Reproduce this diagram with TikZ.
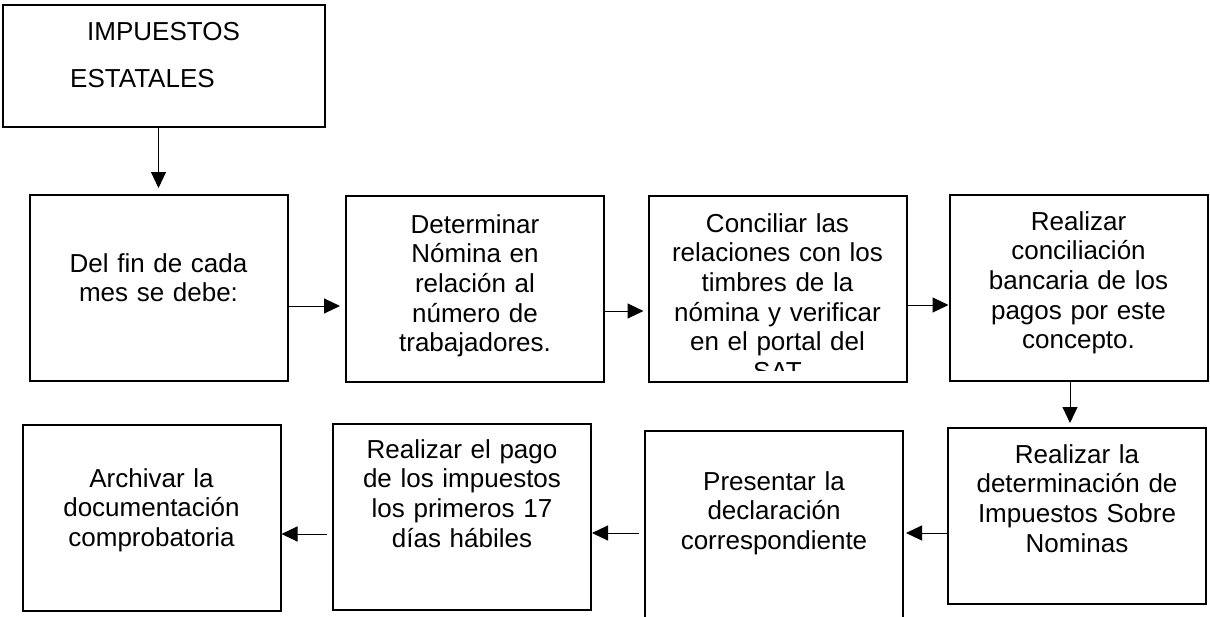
\documentclass[tikz,border=0pt]{standalone}
\usepackage{fontspec}
\setmainfont{Liberation Sans}
\usetikzlibrary{arrows.meta}

\begin{document}
\begin{tikzpicture}[x=1pt,y=-1pt,font=\fontsize{26}{29.7}\selectfont]
\clip (0,0) rectangle (1210,616);
\begin{scope}[every node/.style={draw=black,line width=2pt,minimum width=258pt,minimum height=186pt,inner sep=0pt}]
    \node[minimum width=322pt,minimum height=122pt] (titulo) at (164,66) {};
    \node (p1) at (158.5,288) {};
    \node (p2) at (475,288.5) {};
    \node (p3) at (777.5,289) {};
    \node (p4) at (1078.5,288) {};
    \node[minimum height=176pt] (p8) at (1077,516) {};
    \node[minimum height=190pt] (p7) at (774,526) {};
    \node (p6) at (462,517) {};
    \node (p5) at (151.5,518) {};
\end{scope}
\node[anchor=base west,inner sep=0pt] (imp) at (87,40) {IMPUESTOS};
\node[anchor=base west,inner sep=0pt] (est) at (70,87) {ESTATALES};
\begin{scope}[every node/.style={text width=250pt,align=center,anchor=base}]
    \node (t1) at (p1.center |- 0,272) {Del fin de cada\\mes se debe:};
    \node (t2) at (p2.center |- 0,233) {Determinar\\Nómina en\\relación al\\número de\\trabajadores.};
    \begin{scope}
        \clip (p3.north west) rectangle ([yshift=13pt]p3.south east);
        \node (t3) at (p3.center |- 0,232) {Conciliar las\\relaciones con los\\timbres de la\\nómina y verificar\\en el portal del\\SAT};
    \end{scope}
    \node (t4) at (p4.center |- 0,230) {Realizar\\conciliación\\bancaria de los\\pagos por este\\concepto.};
    \node (t8) at (p8.center |- 0,463) {Realizar la\\determinación de\\Impuestos Sobre\\Nominas};
    \node (t7) at (p7.center |- 0,490) {Presentar la\\declaración\\correspondiente};
    \node (t6) at (p6.center |- 0,458) {Realizar el pago\\de los impuestos\\los primeros 17\\días hábiles};
    \node (t5) at (p5.center |- 0,487) {Archivar la\\documentación\\comprobatoria};
\end{scope}
\begin{scope}[every edge/.style={draw=black,line width=1pt,-{Triangle[length=16pt,width=15pt]}}]
    \draw (titulo.south -| p1.north) edge[shorten >=6pt] (p1.north);
    \draw (p1.east |- 0,306) edge[shorten >=5pt] (p2.west |- 0,306);
    \draw (p2.east |- 0,311) edge[shorten >=4pt] (p3.west |- 0,311);
    \draw (p3.east |- 0,305) edge (p4.west |- 0,305);
    \draw (p4.south -| 1070,0) edge[shorten >=4pt] (p8.north -| 1070,0);
    \draw (p8.west |- 0,533) edge[shorten >=2pt] (p7.east |- 0,533);
    \draw (p7.west |- 0,533) edge[shorten <=5pt] (p6.east |- 0,533);
    \draw (p6.west |- 0,534) edge[shorten <=5pt] (p5.east |- 0,534);
\end{scope}
\end{tikzpicture}
\end{document}
